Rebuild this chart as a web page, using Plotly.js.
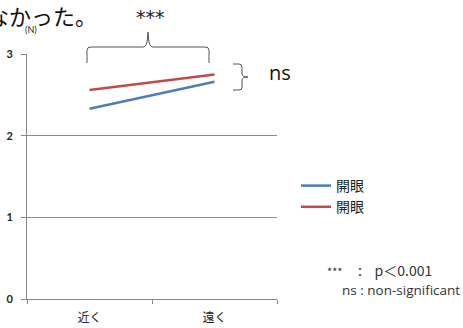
<!DOCTYPE html>
<html><head><meta charset="utf-8">
<script src="https://cdn.plot.ly/plotly-3.0.1.min.js"></script>
<style>html,body{margin:0;padding:0;background:#fff}#c{width:463px;height:328px}</style>
</head><body><div id="c"></div>
<script>
const categories = ['近く', '遠く'];
const seriesNames = ['開眼', '開眼'];
const blueValues = [2.33, 2.66];
const redValues = [2.56, 2.75];
const yTicks = [0, 1, 2, 3];

const W = 463, H = 328, L = 27, R = 186, T = 54, B = 29;
const pw = W - L - R, ph = H - T - B;
const px = x => (x - L) / pw;
const py = y => (H - B - y) / ph;
const braceColor = '#555';
const topBrace = 'M ' + px(87) + ',' + py(63) + ' L ' + px(87) + ',' + py(50) +
  ' Q ' + px(87) + ',' + py(47) + ' ' + px(91) + ',' + py(47) +
  ' L ' + px(143) + ',' + py(47) + ' Q ' + px(147) + ',' + py(47) + ' ' + px(147.5) + ',' + py(38) +
  ' L ' + px(148) + ',' + py(32) + ' L ' + px(148.5) + ',' + py(38) +
  ' Q ' + px(149) + ',' + py(47) + ' ' + px(153) + ',' + py(47) +
  ' L ' + px(205) + ',' + py(47) + ' Q ' + px(209) + ',' + py(47) + ' ' + px(209) + ',' + py(50) +
  ' L ' + px(209) + ',' + py(63);
const rightBrace = 'M ' + px(233) + ',' + py(64) + ' L ' + px(239) + ',' + py(64) +
  ' Q ' + px(242) + ',' + py(64) + ' ' + px(242) + ',' + py(67) +
  ' L ' + px(242) + ',' + py(74) + ' Q ' + px(242) + ',' + py(77) + ' ' + px(248) + ',' + py(77) +
  ' Q ' + px(242) + ',' + py(77) + ' ' + px(242) + ',' + py(80) +
  ' L ' + px(242) + ',' + py(87) + ' Q ' + px(242) + ',' + py(90) + ' ' + px(239) + ',' + py(90) +
  ' L ' + px(233) + ',' + py(90);

const traces = [
  {x: categories, y: blueValues, name: seriesNames[0], type: 'scatter', mode: 'lines',
   line: {color: '#4A7EBB', width: 2.5}},
  {x: categories, y: redValues, name: seriesNames[1], type: 'scatter', mode: 'lines',
   line: {color: '#BE4B48', width: 2.5}}
];
const jp = '"Noto Sans CJK JP", sans-serif';
const layout = {
  width: W, height: H,
  margin: {l: L, r: R, t: T, b: B, pad: 0},
  paper_bgcolor: '#fff', plot_bgcolor: '#fff',
  showlegend: true,
  legend: {x: px(296), y: py(170), xanchor: 'left', yanchor: 'top',
    font: {family: jp, size: 14, color: '#222'}, itemwidth: 30, tracegroupgap: 0,
    bgcolor: 'rgba(0,0,0,0)'},
  xaxis: {type: 'category', range: [-0.5, 1.5], tickson: 'boundaries', ticks: 'outside', ticklen: 4,
    tickcolor: '#888', showline: true, linecolor: '#888', linewidth: 1, showgrid: false,
    tickfont: {family: jp, size: 12, color: '#222'}, ticklabelstandoff: 8, fixedrange: true},
  yaxis: {range: [0, 3], tickvals: yTicks, ticks: 'outside', ticklen: 5, tickcolor: '#888',
    showline: true, linecolor: '#888', linewidth: 1, showgrid: true, gridcolor: '#8c8c8c', gridwidth: 1,
    zeroline: false, tickfont: {family: 'Lato, sans-serif', size: 11, color: '#222', weight: 'bold'}, ticklabelstandoff: 6},
  shapes: [
    {type: 'path', xref: 'paper', yref: 'paper', path: topBrace, line: {color: braceColor, width: 1}},
    {type: 'path', xref: 'paper', yref: 'paper', path: rightBrace, line: {color: braceColor, width: 1}}
  ],
  annotations: [
    {xref: 'paper', yref: 'paper', x: px(99), y: py(15), xanchor: 'right', yanchor: 'middle',
     text: 'なかった。', showarrow: false, font: {family: jp, size: 22, color: '#111'}},
    {xref: 'paper', yref: 'paper', x: px(31), y: py(29), xanchor: 'center', yanchor: 'middle',
     text: '(N)', showarrow: false, font: {family: 'Lato, sans-serif', size: 9, color: '#222'}},
    {xref: 'paper', yref: 'paper', x: px(150), y: py(17), xanchor: 'center', yanchor: 'middle',
     text: '***', showarrow: false, font: {family: 'DejaVu Sans, sans-serif', size: 19, color: '#222'}},
    {xref: 'paper', yref: 'paper', x: px(267), y: py(72), xanchor: 'left', yanchor: 'middle',
     text: 'ns', showarrow: false, font: {family: 'Open Sans, sans-serif', size: 20, color: '#111'}},
    {xref: 'paper', yref: 'paper', x: px(325), y: py(270), xanchor: 'left', yanchor: 'middle',
     text: '<span style="font-size:11px">***</span>     :    p＜0.001', showarrow: false,
     font: {family: jp, size: 14, color: '#333'}},
    {xref: 'paper', yref: 'paper', x: px(340), y: py(290), xanchor: 'left', yanchor: 'middle',
     text: 'ns : non-significant', showarrow: false, font: {family: 'Open Sans, sans-serif', size: 13.5, color: '#333'}}
  ]
};
Plotly.newPlot('c', traces, layout, {displayModeBar: false, staticPlot: true});
</script></body></html>
